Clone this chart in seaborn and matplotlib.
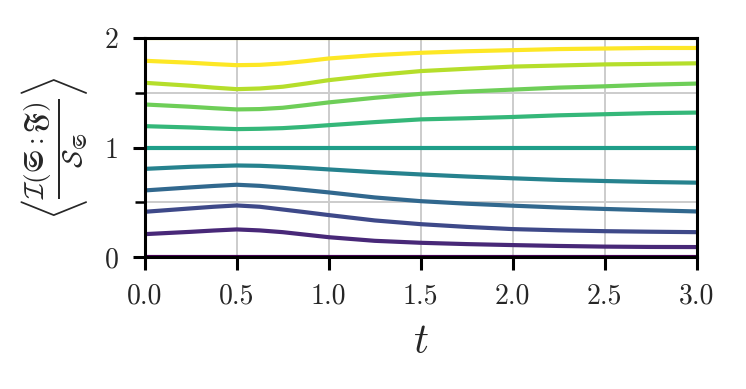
import numpy as np
import pandas as pd
import matplotlib
matplotlib.use('Agg')
import matplotlib.pyplot as plt
import seaborn as sns

# === DONNEES ===
t = [0.0, 0.25, 0.375, 0.5, 0.625, 0.75, 0.875, 1.0, 1.25, 1.5, 1.75, 2.0, 2.25, 2.5, 2.75, 3.0]
init_values = [0.0, 0.2, 0.4, 0.6, 0.8, 1.0, 1.2, 1.4, 1.6, 1.8, 2.0]

curve_00 = [0.0] * 16
curve_02 = [0.21, 0.231, 0.243, 0.253, 0.244, 0.228, 0.205, 0.182, 0.149, 0.131, 0.119, 0.11, 0.102, 0.096, 0.093, 0.092]
curve_04 = [0.414, 0.445, 0.46, 0.472, 0.46, 0.435, 0.41, 0.384, 0.335, 0.301, 0.276, 0.256, 0.245, 0.237, 0.232, 0.228]
curve_06 = [0.609, 0.637, 0.65, 0.661, 0.651, 0.633, 0.612, 0.591, 0.545, 0.511, 0.488, 0.47, 0.453, 0.44, 0.428, 0.417]
curve_08 = [0.806, 0.825, 0.831, 0.837, 0.834, 0.825, 0.814, 0.801, 0.776, 0.755, 0.736, 0.72, 0.705, 0.695, 0.686, 0.68]
curve_10 = [1.0] * 16
curve_12 = [1.196, 1.184, 1.176, 1.169, 1.172, 1.178, 1.19, 1.205, 1.233, 1.258, 1.268, 1.28, 1.295, 1.305, 1.315, 1.32]
curve_14 = [1.394, 1.373, 1.36, 1.349, 1.352, 1.364, 1.388, 1.413, 1.455, 1.491, 1.512, 1.53, 1.548, 1.56, 1.575, 1.585]
curve_16 = [1.592, 1.565, 1.548, 1.534, 1.54, 1.556, 1.585, 1.616, 1.662, 1.699, 1.72, 1.74, 1.75, 1.76, 1.765, 1.77]
curve_18 = [1.793, 1.775, 1.763, 1.753, 1.756, 1.769, 1.79, 1.814, 1.845, 1.866, 1.88, 1.89, 1.90, 1.905, 1.91, 1.91]
curve_20 = [2.0] * 16

curves = [curve_00, curve_02, curve_04, curve_06, curve_08, curve_10,
          curve_12, curve_14, curve_16, curve_18, curve_20]

x_ticks = [0.0, 0.5, 1.0, 1.5, 2.0, 2.5, 3.0]
y_ticks = [0, 1, 2]
y_minor = [0.5, 1.5]

# === STYLE ===
sns.set_theme(style="white")
plt.rcParams["font.family"] = "serif"
plt.rcParams["font.serif"] = ["cmr10"]
plt.rcParams["mathtext.fontset"] = "cm"
plt.rcParams["axes.formatter.use_mathtext"] = True

rows = []
for v, c in zip(init_values, curves):
    for ti, yi in zip(t, c):
        rows.append({"t": ti, "valeur": yi, "init": v})
df = pd.DataFrame(rows)

fig = plt.figure(figsize=(3.73, 1.945), dpi=200)
ax = fig.add_axes([0.194, 0.339, 0.740, 0.563])

sns.lineplot(data=df, x="t", y="valeur", hue="init", palette="viridis", hue_norm=(0, 1.8),
             linewidth=1.5, legend=False, ax=ax, zorder=3)

ax.set_xlim(0, 3)
ax.set_ylim(0, 2)
ax.set_xticks(x_ticks)
ax.set_xticklabels([f"{x:.1f}" for x in x_ticks])
ax.set_yticks(y_ticks)
ax.set_yticks(y_minor, minor=True)
ax.set_yticklabels([str(y) for y in y_ticks])

ax.grid(True, which="both", color="#cccccc", linewidth=0.7, zorder=0)
ax.grid(False, axis="x", which="minor")

for s in ax.spines.values():
    s.set_linewidth(1.1)
    s.set_color("black")
    s.set_zorder(5)

ax.tick_params(which="major", direction="out", length=4.5, width=1.1,
               labelsize=10, color="black", pad=5, left=True, bottom=True)
ax.tick_params(which="minor", direction="out", length=3.5, width=0.9,
               color="black", left=True)

ax.set_xlabel("$t$", fontsize=15, labelpad=5)
ax.set_ylabel(r"$\left\langle\frac{\mathcal{I}(\mathfrak{S}:\mathfrak{F})}{\mathcal{S}_{\mathfrak{S}}}\right\rangle$",
              fontsize=14, labelpad=5)

plt.savefig("out.png", dpi=200)
plt.close()
